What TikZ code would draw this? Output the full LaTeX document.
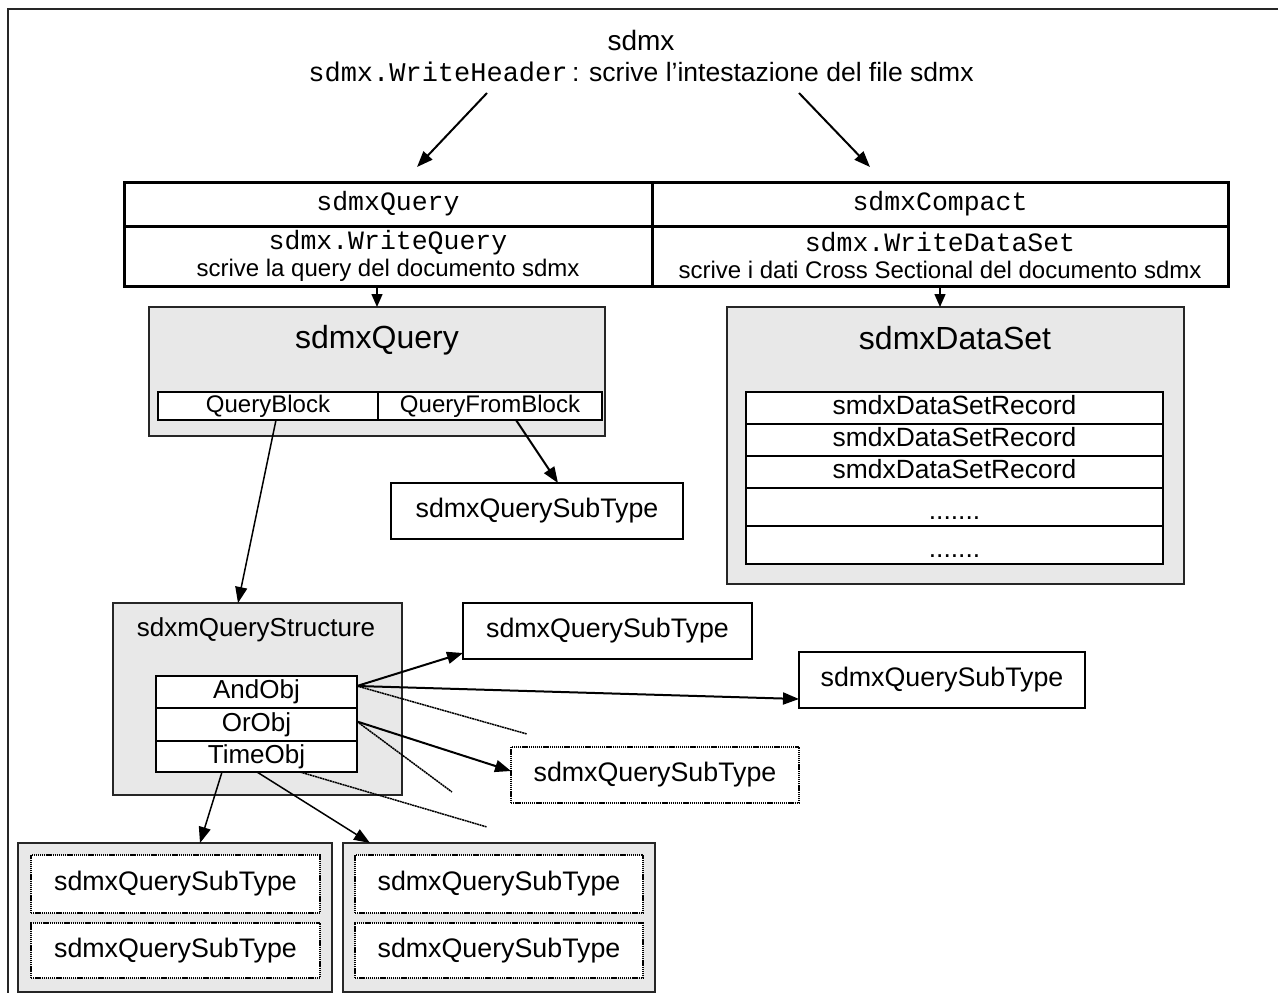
\documentclass[tikz,border=0pt]{standalone}
\usepackage{fontspec}
\setmainfont{Liberation Sans}
\setmonofont{Liberation Mono}
\usetikzlibrary{arrows.meta,calc}
\newcommand{\fsz}[1]{\fontsize{#1}{#1}\selectfont}

\begin{document}
\begin{tikzpicture}[x=1pt,y=-1pt,
  tbl/.style={draw, line width=3pt, inner sep=0pt, outer sep=0pt, anchor=north west, fill=white},
  cell/.style={tbl, line width=2.5pt, text height=18pt, text depth=5pt},
  grp/.style={draw=black!85, line width=2pt, fill=black!9, inner sep=0pt, outer sep=0pt, anchor=north west},
  sub/.style={draw, line width=2pt, fill=white, inner sep=0pt, outer sep=0pt, anchor=north west, font=\fsz{26.8}},
  subdot/.style={sub, line width=1.8pt, dash pattern=on 1.3pt off 0.8pt},
  arr/.style={-{Triangle[length=16pt,width=12pt]}, line width=2pt},
  thinarr/.style={-{Triangle[length=16pt,width=12pt]}, line width=1.5pt},
  ghost/.style={line width=1.5pt, dash pattern=on 2pt off 0.6pt},
  dots/.style={text height=25pt, text depth=0pt},
  rec/.style={cell, minimum width=417, font=\fsz{26.4}},
]
\useasboundingbox (0,0) rectangle (1278,993);
\fill[white] (0,0) rectangle (1278,993);

% frame (top and left rules)
\draw[line width=2.5pt, black!85] (8,993) -- (8,9) -- (1278,9);

% heading
\node[font=\fsz{28}] (title) at (641,40) {sdmx};
\node[font=\fsz{26.5}] (hdr) at (641,72) {{\ttfamily\fsz{27}sdmx.WriteHeader}\,: scrive l’intestazione del file sdmx};

% top table
\node[tbl, minimum width=528, minimum height=44, font=\ttfamily\fsz{26.5}] (q1) at (124,182) {sdmxQuery};
\node[tbl, minimum width=576, minimum height=44, font=\ttfamily\fsz{26.5}] (c1) at (652,182) {sdmxCompact};
\node[tbl, minimum width=528, minimum height=60, align=center, font=\fontsize{24}{27}\selectfont] (q2) at (124,226)
  {{\ttfamily\fsz{26.5}sdmx.WriteQuery}\\scrive la query del documento sdmx};
\node[tbl, minimum width=576, minimum height=60, align=center, font=\fontsize{24}{27}\selectfont] (c2) at (652,226)
  {{\ttfamily\fsz{26.5}sdmx.WriteDataSet}\\scrive i dati Cross Sectional del documento sdmx};

\coordinate (h1) at (487,93);
\coordinate (h2) at (417,167);
\coordinate (h3) at (799,93);
\coordinate (h4) at (870,167);
\draw[arr] (h1) -- (h2);
\draw[arr] (h3) -- (h4);

% sdmxQuery block
\node[grp, minimum width=456, minimum height=129] (qbox) at (149,307) {};
\node[font=\fsz{32}] (qboxt) at (377,340) {sdmxQuery};
\node[cell, minimum width=220, minimum height=28, font=\fsz{24}] (qb) at (158,392) {QueryBlock};
\node[cell, minimum width=224, minimum height=28, font=\fsz{24}] (qfb) at (378,392) {QueryFromBlock};

% sdmxDataSet block
\node[grp, minimum width=457, minimum height=277] (dbox) at (727,307) {};
\node[font=\fsz{32}] (dboxt) at (955,338) {sdmxDataSet};
\node[rec, minimum height=32] (r1) at (746,392) {smdxDataSetRecord};
\node[rec, minimum height=32] (r2) at (746,424) {smdxDataSetRecord};
\node[rec, minimum height=32] (r3) at (746,456) {smdxDataSetRecord};
\node[rec, dots, minimum height=38] (r4) at (746,488) {.......};
\node[rec, dots, minimum height=38] (r5) at (746,526) {.......};

\draw[-{Triangle[length=13pt,width=11pt]}, line width=1.5pt] (q2.south -| qbox.north) -- (qbox.north);
\draw[-{Triangle[length=13pt,width=11pt]}, line width=1.5pt] (c2.south) -- (c2.south |- dbox.north);

% query sub type under QueryFromBlock
\node[sub, minimum width=292, minimum height=56] (st1) at (391,483) {sdmxQuerySubType};

% query structure block
\node[grp, minimum width=289, minimum height=192] (sbox) at (113,603) {};
\node[font=\fsz{26}] (sboxt) at (256,630) {sdxmQueryStructure};
\node[cell, minimum width=201, minimum height=32, font=\fsz{26}, text height=19pt, text depth=6pt] (and) at (156,676) {AndObj};
\node[cell, minimum width=201, minimum height=33, font=\fsz{26}, text height=19pt, text depth=6pt] (or) at (156,708) {OrObj};
\node[cell, minimum width=201, minimum height=31, font=\fsz{26}, text height=19pt, text depth=6pt] (time) at (156,741) {TimeObj};

\draw[thinarr] ($(qb.south)+(8,0)$) -- ($(sbox.north west)+(125,0)$);
\draw[arr] ($(qfb.south west)+(138,0)$) -- ($(st1.north west)+(167,0)$);

% sub types on the right
\node[sub, minimum width=289, minimum height=56] (st2) at (463,603) {sdmxQuerySubType};
\node[sub, minimum width=286, minimum height=56] (st3) at (799,652) {sdmxQuerySubType};
\node[subdot, minimum width=288, minimum height=56] (st4) at (511,747) {sdmxQuerySubType};

% bottom groups
\node[grp, minimum width=314, minimum height=149] (ga) at (18,843) {};
\node[subdot, minimum width=289, minimum height=58] (ga1) at (31,855) {sdmxQuerySubType};
\node[subdot, minimum width=289, minimum height=55] (ga2) at (31,923) {sdmxQuerySubType};
\node[grp, minimum width=312, minimum height=149] (gb) at (343,843) {};
\node[subdot, minimum width=288, minimum height=58] (gb1) at (355,855) {sdmxQuerySubType};
\node[subdot, minimum width=288, minimum height=55] (gb2) at (355,923) {sdmxQuerySubType};

% links from the query structure
\coordinate (andr) at ($(and.north east)+(0,10)$);
\coordinate (orr) at ($(or.east)+(0,-3)$);
\coordinate (g1) at (527,734);
\coordinate (g2) at (452,792);
\coordinate (g3) at (487,827);

\draw[arr] (andr) -- ($(st2.south west)+(0,-6)$);
\draw[arr] (andr) -- ($(st3.south west)+(0,-9)$);
\draw[ghost] (andr) -- (g1);
\draw[arr] (orr) -- ($(st4.west)+(0,-4)$);
\draw[ghost] (orr) -- (g2);
\draw[thinarr] ($(time.south west)+(66,0)$) -- ($(ga.north west)+(182,0)$);
\draw[thinarr] ($(time.south west)+(101,0)$) -- ($(gb.north west)+(27,0)$);
\draw[ghost] ($(time.south west)+(144,0)$) -- (g3);
\end{tikzpicture}
\end{document}
